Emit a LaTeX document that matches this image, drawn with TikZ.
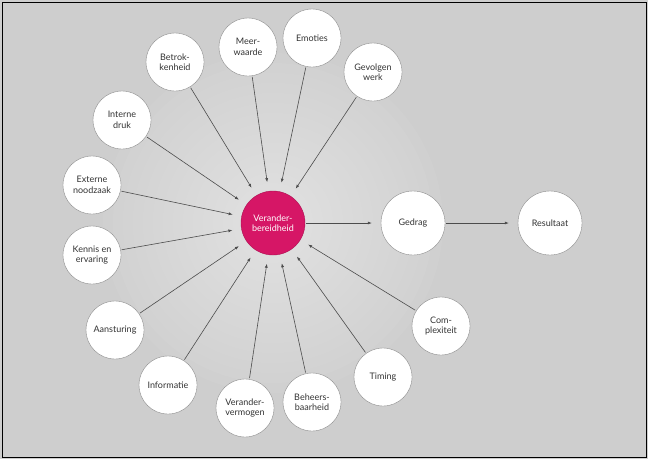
\documentclass[tikz,border=0pt]{standalone}
\usepackage{fontspec}
\setmainfont{Lato}
\usetikzlibrary{arrows.meta}
\definecolor{bg}{RGB}{206,206,206}
\definecolor{pinkc}{RGB}{214,22,102}
\tikzset{
 outer/.style={circle,draw=black!45,fill=white,minimum size=58pt,inner sep=0pt,align=center,font=\fontsize{9}{10.5}\selectfont,text=black!80},
 big/.style={outer,minimum size=64pt},
 arr/.style={-{Latex[length=4pt,width=3pt]},draw=black!70,line width=0.6pt,shorten >=9pt,shorten <=1pt}
}
\begin{document}
\begin{tikzpicture}[x=1pt,y=-1pt]
\useasboundingbox (0,0) rectangle (648,459);
\fill[bg] (0,0) rectangle (648,459);
\foreach \r in {170,160,...,40} \fill[white,opacity=0.045] (273,223) circle (\r);
\draw[black,line width=0.8pt] (2,2) rectangle (646,457);
\node[big,fill=pinkc,draw=pinkc!80!black,text=white] (c) at (273,223) {Verander-\\bereidheid};
\node[big] (g) at (413,223) {Gedrag};
\node[big] (r) at (550,223) {Resultaat};
\node[outer] (n1) at (248,47) {Meer-\\waarde};
\node[outer] (n2) at (312,38) {Emoties};
\node[outer] (n3) at (373,72) {Gevolgen\\werk};
\node[outer] (n4) at (175,62) {Betrok-\\kenheid};
\node[outer] (n5) at (122,120) {Interne\\druk};
\node[outer] (n6) at (92,185) {Externe\\noodzaak};
\node[outer] (n7) at (92,255) {Kennis en\\ervaring};
\node[outer] (n8) at (115,330) {Aansturing};
\node[outer] (n9) at (168,385) {Informatie};
\node[outer] (n10) at (245,408) {Verander-\\vermogen};
\node[outer] (n11) at (312,402) {Beheers-\\baarheid};
\node[outer] (n12) at (383,377) {Timing};
\node[outer] (n13) at (441,326) {Com-\\plexiteit};
\foreach \i in {1,...,13} \draw[arr] (n\i) -- (c);
\draw[arr] (c) -- (g);
\draw[arr] (g) -- (r);
\end{tikzpicture}
\end{document}
